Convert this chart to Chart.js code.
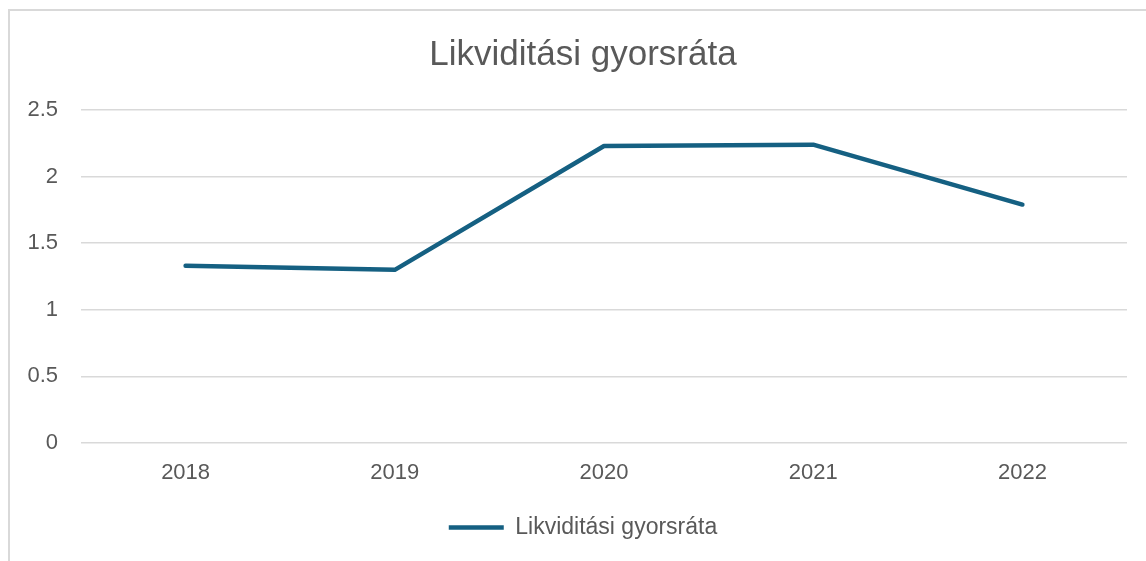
<!DOCTYPE html>
<html>
<head>
<meta charset="utf-8">
<script src="https://cdn.jsdelivr.net/npm/chart.js@4"></script>
<style>
  html, body { margin: 0; padding: 0; background: #ffffff; overflow: hidden; width: 1146px; height: 561px; }
  #frame { position: absolute; left: 8px; top: 9px; width: 1200px; height: 600px;
           border-left: 2px solid #d9d9d9; border-top: 2px solid #d9d9d9; }
  #wrap { position: absolute; left: 0; top: 0; width: 1166px; height: 561px; }
</style>
</head>
<body>
<div id="frame"></div>
<div id="wrap"><canvas id="c" width="1166" height="561"></canvas></div>
<script>
const years = ["2018", "2019", "2020", "2021", "2022"];
const quickRatio = [1.33, 1.30, 2.23, 2.24, 1.79];
const yTicks = [0, 0.5, 1, 1.5, 2, 2.5];
const seriesName = "Likviditási gyorsráta";
const chartTitle = "Likviditási gyorsráta";

const fontFamily = "'Liberation Sans', Arial, sans-serif";
const textColor = "#595959";

new Chart(document.getElementById("c"), {
  type: "line",
  data: {
    labels: years,
    datasets: [{
      label: seriesName,
      data: quickRatio,
      borderColor: "#156082",
      backgroundColor: "#156082",
      borderWidth: 4.5,
      pointRadius: 0,
      pointHoverRadius: 0,
      tension: 0,
      borderCapStyle: "round",
      borderJoinStyle: "round",
      fill: false,
      yAxisID: "y"
    }]
  },
  options: {
    responsive: false,
    animation: false,
    layout: { padding: { left: 0, right: 0, top: 0, bottom: 12 } },
    plugins: {
      title: {
        display: true,
        text: chartTitle,
        color: textColor,
        font: { family: fontFamily, size: 35, weight: "normal", lineHeight: 1.2 },
        padding: { top: 34, bottom: 34 }
      },
      legend: {
        display: true,
        position: "bottom",
        labels: {
          color: textColor,
          font: { family: fontFamily, size: 23, lineHeight: 1.2 },
          usePointStyle: true,
          pointStyle: "line",
          pointStyleWidth: 55,
          padding: 10
        }
      },
      tooltip: { enabled: false }
    },
    scales: {
      x: {
        offset: true,
        grid: { display: false, drawTicks: false },
        border: { display: false },
        ticks: { color: textColor, font: { family: fontFamily, size: 22, lineHeight: 1.2 }, padding: 17, maxRotation: 0 },
        afterFit: (axis) => { axis.height = 63; }
      },
      y: {
        position: "left",
        min: 0,
        max: 2.5,
        afterBuildTicks: (axis) => { axis.ticks = yTicks.map(v => ({ value: v })); },
        grid: { color: "#d9d9d9", lineWidth: 1.5, drawTicks: false },
        border: { display: false },
        ticks: {
          color: textColor,
          font: { family: fontFamily, size: 22, lineHeight: 1.2 },
          padding: 23,
          callback: (v) => String(v)
        },
        afterFit: (axis) => { axis.width = 81; }
      },
      yRightSpacer: {
        type: "linear",
        position: "right",
        display: true,
        min: 0,
        max: 2.5,
        grid: { display: false, drawTicks: false },
        border: { display: false },
        ticks: { display: false },
        afterFit: (axis) => { axis.width = 39; }
      }
    }
  }
});
</script>
</body>
</html>
